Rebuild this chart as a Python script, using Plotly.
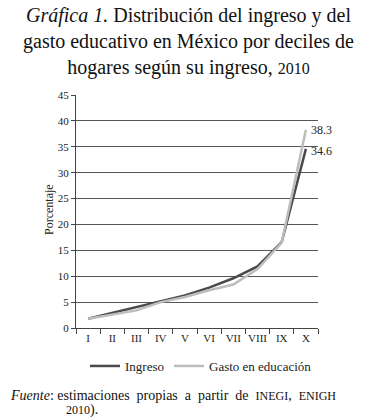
import plotly.graph_objects as go

deciles = ["I", "II", "III", "IV", "V", "VI", "VII", "VIII", "IX", "X"]
ingreso = [1.8, 2.9, 4.0, 5.2, 6.3, 7.8, 9.6, 11.9, 16.6, 34.6]
gasto = [1.8, 2.6, 3.4, 5.0, 6.0, 7.3, 8.4, 11.4, 16.5, 38.3]
yticks = [0, 5, 10, 15, 20, 25, 30, 35, 40, 45]

FONT = "Liberation Serif"
W, H = 376, 418
L, R, T, B = 76, 58, 95, 90
pw, ph = W - L - R, H - T - B

def px(x):
    return (x - L) / pw

def py(y):
    return (H - B - y) / ph

fig = go.Figure()
fig.add_trace(go.Scatter(x=deciles, y=ingreso, mode="lines", name="Ingreso",
                         line=dict(color="#4a4a4a", width=2.5)))
fig.add_trace(go.Scatter(x=deciles, y=gasto, mode="lines", name="Gasto en educación",
                         line=dict(color="#bdbdbd", width=2.5)))

fig.add_annotation(x=deciles[-1], y=gasto[-1], text=f"{gasto[-1]}", showarrow=False,
                   xanchor="left", yanchor="middle", xshift=3,
                   font=dict(family=FONT, size=12, color="#222"))
fig.add_annotation(x=deciles[-1], y=ingreso[-1], text=f"{ingreso[-1]}", showarrow=False,
                   xanchor="left", yanchor="middle", xshift=3, yshift=-2,
                   font=dict(family=FONT, size=12, color="#222"))

# title
fig.add_annotation(xref="paper", yref="paper", x=px(188), y=py(2), xanchor="center", yanchor="top",
                   showarrow=False, align="center",
                   text="<i>Gráfica 1.</i> Distribución del ingreso y del<br>"
                        "gasto educativo en México por deciles de<br>"
                        "hogares según su ingreso, <span style='font-size:16px'>2010</span>",
                   font=dict(family=FONT, size=20, color="#111"))

# y axis title
fig.add_annotation(xref="paper", yref="paper", x=px(49), y=py(210), textangle=-90,
                   xanchor="center", yanchor="middle",
                   showarrow=False, text="Porcentaje",
                   font=dict(family=FONT, size=12, color="#222"))

# source
fig.add_annotation(xref="paper", yref="paper", x=px(8), y=py(395), xanchor="left", yanchor="middle",
                   showarrow=False,
                   text="<i>Fuente</i>: estimaciones  propias  a  partir  de  "
                        "<span style='font-size:12px'>INEGI</span>,  <span style='font-size:12px'>ENIGH</span>",
                   font=dict(family=FONT, size=14, color="#111"))
fig.add_annotation(xref="paper", yref="paper", x=px(64), y=py(410), xanchor="left", yanchor="middle",
                   showarrow=False,
                   text="<span style='font-size:12px'>2010</span>).",
                   font=dict(family=FONT, size=14, color="#111"))

fig.update_layout(
    width=W, height=H,
    margin=dict(l=L, r=R, t=T, b=B, autoexpand=False),
    paper_bgcolor="white", plot_bgcolor="white",
    font=dict(family=FONT, size=11, color="#222"),
    showlegend=True,
    legend=dict(orientation="h", xanchor="center", x=px(201), yanchor="middle", y=py(366),
                font=dict(family=FONT, size=13, color="#222"), bgcolor="rgba(0,0,0,0)",
                itemwidth=30, tracegroupgap=0),
    xaxis=dict(type="category", range=[-0.5, 9.5], tickson="boundaries", ticks="outside",
               ticklen=5, tickcolor="#444", showline=True, linecolor="#444", linewidth=1,
               showgrid=False, tickangle=0, automargin=False,
               tickfont=dict(family=FONT, size=11, color="#222")),
    yaxis=dict(range=[0, 45], tickvals=yticks, ticks="outside", ticklen=4, tickcolor="#444",
               showline=True, linecolor="#444", linewidth=1, gridcolor="#555", gridwidth=1,
               zeroline=False, automargin=False, tickfont=dict(family=FONT, size=11, color="#222")),
)

fig.write_html("out.html", config={"displayModeBar": False},
               post_script="document.body.style.margin='0';document.body.style.overflow='hidden';")
